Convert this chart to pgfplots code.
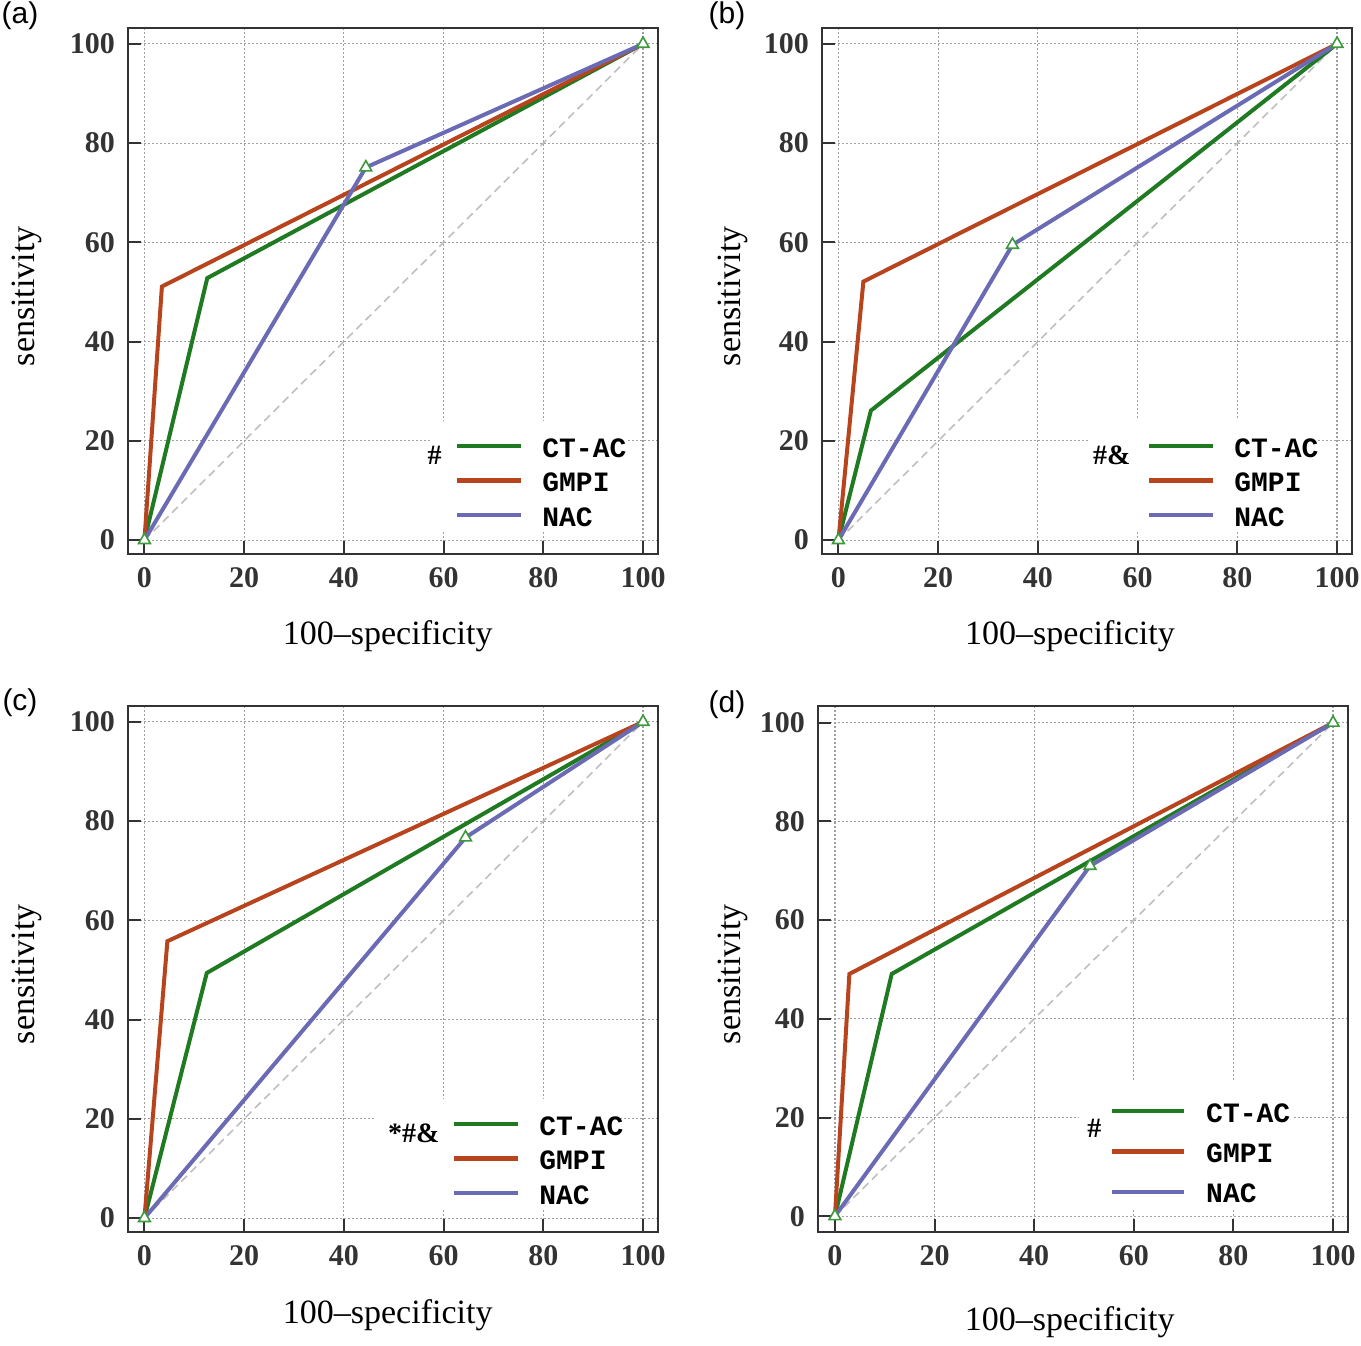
\documentclass[border=0pt]{standalone}
\usepackage{pgfplots}
\pgfplotsset{compat=1.18}
\usepackage{fontspec}
\setmainfont{Liberation Serif}
\newfontfamily\legfont{Liberation Mono}
\newfontfamily\panelfont{Liberation Sans}
\definecolor{cgreen}{HTML}{1F7A22}
\definecolor{cred}{HTML}{B8441E}
\definecolor{cblue}{HTML}{6B6BB5}
\definecolor{cmark}{HTML}{3C9A3C}
\definecolor{axcol}{HTML}{333333}

\pgfplotsset{
 roc/.style={
  scale only axis, width=265pt, height=263pt,
  xmin=-3.3, xmax=103, ymin=-2.8, ymax=103.2,
  xtick={0,20,...,100}, ytick={0,20,...,100},
  tick pos=left, tick align=inside, major tick length=6.5pt,
  every tick/.style={axcol, line width=1pt},
  axis line style={axcol, line width=1.4pt},
  grid=major,
  major grid style={gray!75, line width=0.6pt, dash pattern=on 1pt off 1pt},
  /pgf/number format/assume math mode=true,
  ticklabel style={font=\fontsize{15}{18}\selectfont\bfseries, text=axcol},
  xticklabel style={yshift=-3pt},
  yticklabel style={xshift=-3pt},
  label style={font=\fontsize{17}{20}\selectfont},
  xlabel={100--specificity}, ylabel={sensitivity},
  legend style={draw=none, fill=none,
    font=\legfont\bfseries\fontsize{14}{16}\selectfont,
    anchor=north west, inner sep=0pt, row sep=6.2pt,
    nodes={inner sep=0pt, text height=9pt, text depth=2pt},
    /tikz/every odd column/.append style={column sep=9.5pt}},
  legend cell align=left,
  legend image code/.code={\draw[#1, line width=2.2pt] (0pt,2pt) -- (32pt,2pt);},
 },
 ct/.style={cgreen, line width=2pt},
 gm/.style={cred, line width=2pt},
 na/.style={cblue, line width=2pt, mark=triangle*, mark size=3.4pt,
   mark options={draw=cmark, fill=white, line width=0.8pt}},
 diag/.style={gray!50, line width=0.8pt, dash pattern=on 4pt off 2.5pt, forget plot},
}

\begin{document}
\begin{tikzpicture}
\path[use as bounding box] (0,0) rectangle (680.5pt,-672.5pt);

% (a)
\begin{axis}[roc, at={(64pt,-277pt)}, anchor=south west,
  xlabel style={at={(axis description cs:0.49,-0.156)}, anchor=center},
  ylabel style={at={(axis description cs:-0.19,0.49)}, anchor=center},
  legend style={at={(axis cs:62.2,20.4)}}]
\fill[white] (axis cs:57.2,1.6) rectangle (axis cs:96.6,24);
\addplot[diag] coordinates {(0,0) (100,100)};
\addplot[ct] coordinates {(0,0) (12.6,52.8) (100,100)};
\addplot[gm] coordinates {(0,0) (3.5,51.1) (100,100)};
\addplot[na] coordinates {(0,0) (44.4,75.1) (100,100)};
\node[font=\fontsize{14}{16}\selectfont\bfseries] at (axis cs:58.2,17.1) {\#};
\legend{CT-AC,GMPI,NAC}
\end{axis}

% (b)
\begin{axis}[roc, at={(411pt,-277pt)}, anchor=south west,
  xlabel style={at={(axis description cs:0.468,-0.156)}, anchor=center},
  ylabel style={at={(axis description cs:-0.168,0.49)}, anchor=center},
  legend style={at={(axis cs:61.8,20.4)}}]
\fill[white] (axis cs:50.2,1.6) rectangle (axis cs:96.2,24.2);
\addplot[diag] coordinates {(0,0) (100,100)};
\addplot[ct] coordinates {(0,0) (6.5,26.1) (100,100)};
\addplot[gm] coordinates {(0,0) (5.0,52.1) (100,100)};
\addplot[na] coordinates {(0,0) (34.9,59.5) (100,100)};
\node[font=\fontsize{14}{16}\selectfont\bfseries] at (axis cs:54.8,17.1) {\#\&};
\legend{CT-AC,GMPI,NAC}
\end{axis}

% (c)
\begin{axis}[roc, at={(64pt,-616pt)}, anchor=south west,
  xlabel style={at={(axis description cs:0.49,-0.158)}, anchor=center},
  ylabel style={at={(axis description cs:-0.19,0.49)}, anchor=center},
  legend style={at={(axis cs:61.6,20.4)}}]
\fill[white] (axis cs:46.2,1.6) rectangle (axis cs:94.8,24.1);
\addplot[diag] coordinates {(0,0) (100,100)};
\addplot[ct] coordinates {(0,0) (12.5,49.4) (100,100)};
\addplot[gm] coordinates {(0,0) (4.6,55.8) (100,100)};
\addplot[na] coordinates {(0,0) (64.4,76.7) (100,100)};
\node[font=\fontsize{14}{16}\selectfont\bfseries] at (axis cs:54,17.1) {*\#\&};
\legend{CT-AC,GMPI,NAC}
\end{axis}

% (d)
\begin{axis}[roc, at={(409pt,-616pt)}, anchor=south west,
  ymin=-3.2, ymax=103.4, xmin=-3.4,
  xlabel style={at={(axis description cs:0.475,-0.171)}, anchor=center},
  ylabel style={at={(axis description cs:-0.16,0.49)}, anchor=center},
  legend style={at={(axis cs:55.1,22.8)}, row sep=9.2pt,
    /tikz/every odd column/.append style={column sep=10pt}},
  legend image code/.code={\draw[#1, line width=2.2pt] (0pt,2pt) -- (36pt,2pt);}]
\fill[white] (axis cs:48.9,1.6) rectangle (axis cs:92,27.6);
\addplot[diag] coordinates {(0,0) (100,100)};
\addplot[ct] coordinates {(0,0) (11.4,49.1) (100,100)};
\addplot[gm] coordinates {(0,0) (2.9,49.1) (100,100)};
\addplot[na] coordinates {(0,0) (51.2,71.0) (100,100)};
\node[font=\fontsize{14}{16}\selectfont\bfseries] at (axis cs:52.1,17.8) {\#};
\legend{CT-AC,GMPI,NAC}
\end{axis}

\node[font=\panelfont\fontsize{15}{18}\selectfont] at (10pt,-8pt) {(a)};
\node[font=\panelfont\fontsize{15}{18}\selectfont] at (363.5pt,-8pt) {(b)};
\node[font=\panelfont\fontsize{15}{18}\selectfont] at (10pt,-351.5pt) {(c)};
\node[font=\panelfont\fontsize{15}{18}\selectfont] at (363.5pt,-352.5pt) {(d)};
\end{tikzpicture}
\end{document}
